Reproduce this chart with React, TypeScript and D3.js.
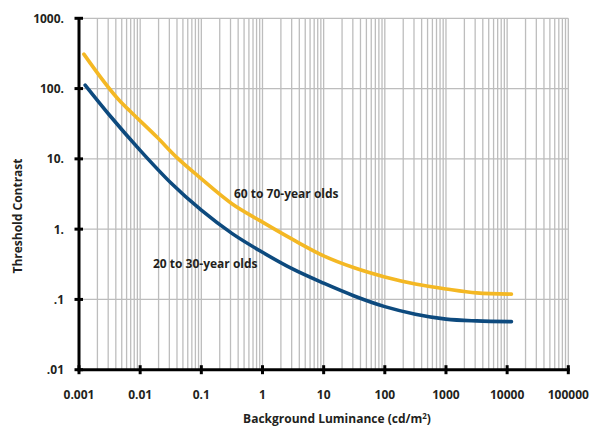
import React from "react";
import * as d3 from "d3";

const xTicks = [0.001, 0.01, 0.1, 1, 10, 100, 1000, 10000, 100000];
const xTickLabels = ["0.001", "0.01", "0.1", "1", "10", "100", "1000", "10000", "100000"];
const yTicks = [0.01, 0.1, 1, 10, 100, 1000];
const yTickLabels = [".01", ".1", "1.", "10.", "100.", "1000."];

const olderX = [0.0012, 0.0047, 0.0068, 0.0186, 0.04, 0.095, 0.316, 0.91, 3.16, 10, 31.6, 100, 316, 1000, 3162, 11750];
const olderY = [309, 66, 47.9, 20.6, 10.4, 5.4, 2.3, 1.32, 0.708, 0.417, 0.282, 0.209, 0.166, 0.141, 0.124, 0.119];

const youngerX = [0.00126, 0.00316, 0.01, 0.0316, 0.1, 0.316, 1, 3.16, 10, 31.6, 100, 316, 1000, 3162, 11750];
const youngerY = [112, 41.7, 13.2, 4.57, 1.86, 0.87, 0.468, 0.269, 0.17, 0.112, 0.079, 0.0617, 0.0525, 0.0495, 0.0483];

const FONT = "'Open Sans', sans-serif";

export default function App() {
  const x = d3.scaleLog().domain([0.001, 100000]).range([79, 568.3]);
  const y = d3.scaleLog().domain([0.01, 1000]).range([369.7, 18.3]);

  const vgrid: number[] = [];
  for (let e = -3; e < 5; e++) {
    for (let m = 1; m <= 9; m++) vgrid.push(m * Math.pow(10, e));
  }
  vgrid.push(100000);

  const line = d3
    .line<[number, number]>()
    .x((d) => x(d[0]))
    .y((d) => y(d[1]))
    .curve(d3.curveMonotoneX);

  const older = olderX.map((v, i) => [v, olderY[i]] as [number, number]);
  const younger = youngerX.map((v, i) => [v, youngerY[i]] as [number, number]);

  const grid = "#bdbdbd";

  return (
    <svg
      width={591}
      height={426}
      style={{ position: "absolute", left: 0, top: 0, background: "#fff" }}
      fontFamily={FONT}
      fontWeight={700}
    >
      {vgrid.map((v, i) => (
        <line key={"mv" + i} x1={x(v)} x2={x(v)} y1={y(1000)} y2={y(0.01)} stroke={grid} strokeWidth={1.3} />
      ))}
      {yTicks.map((v, i) => (
        <line key={"hg" + i} x1={x(0.001)} x2={x(100000)} y1={y(v)} y2={y(v)} stroke={grid} strokeWidth={1.3} />
      ))}
      <path d={line(older) || ""} fill="none" stroke="#f4b824" strokeWidth={3.6} strokeLinecap="round" strokeLinejoin="round" />
      <path d={line(younger) || ""} fill="none" stroke="#0d4a7e" strokeWidth={3.6} strokeLinecap="round" strokeLinejoin="round" />
      <line x1={x(0.001)} x2={x(0.001)} y1={y(1000) - 1} y2={y(0.01) + 1.5} stroke="#000" strokeWidth={3} />
      <line x1={x(0.001) - 1.5} x2={x(100000) + 1.5} y1={y(0.01)} y2={y(0.01)} stroke="#000" strokeWidth={3} />
      {yTicks.map((v, i) => (
        <line key={"yt" + i} x1={x(0.001) - 4.5} x2={x(0.001) + 4} y1={y(v)} y2={y(v)} stroke="#000" strokeWidth={3} />
      ))}
      {xTicks.map((v, i) => (
        <line key={"xt" + i} x1={x(v)} x2={x(v)} y1={y(0.01) - 4.5} y2={y(0.01) + 4.5} stroke="#000" strokeWidth={3} />
      ))}
      {yTicks.map((v, i) => (
        <text key={"yl" + i} x={64} y={y(v) + 4.5} textAnchor="end" fontSize={12} fill="#231f20">
          {yTickLabels[i]}
        </text>
      ))}
      {xTicks.map((v, i) => (
        <text key={"xl" + i} x={x(v)} y={399} textAnchor="middle" fontSize={12} fill="#231f20">
          {xTickLabels[i]}
        </text>
      ))}
      <text x={337} y={423} textAnchor="middle" fontSize={12} fill="#231f20">
        Background Luminance (cd/m<tspan dy={-4} fontSize={8}>2</tspan>
        <tspan dy={4}>)</tspan>
      </text>
      <text transform="translate(22,216) rotate(-90)" textAnchor="middle" fontSize={12} fill="#231f20">
        Threshold Contrast
      </text>
      <text x={234} y={197.5} fontSize={12} fill="#231f20">60 to 70-year olds</text>
      <text x={153} y={267.5} fontSize={12} fill="#231f20">20 to 30-year olds</text>
    </svg>
  );
}
